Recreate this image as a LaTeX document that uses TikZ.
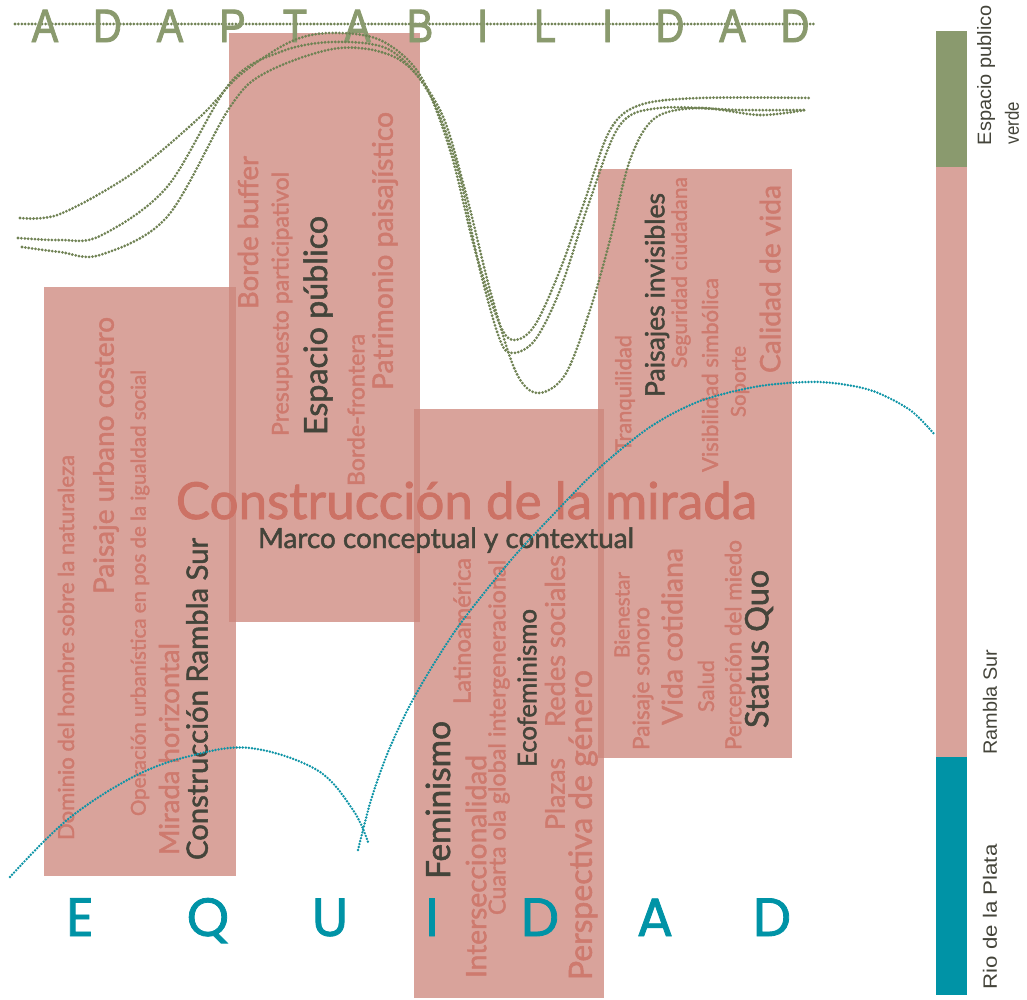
\documentclass[tikz,border=0pt]{standalone}
\usepackage{fontspec}
\setmainfont{Lato}
\newfontfamily\wfont{Lato}[FakeBold=1.6]
\newfontfamily\letfont{Liberation Sans}[FakeBold=2]
\newfontfamily\eqfont{Poppins}[FakeBold=1.5]
\newfontfamily\barfont{Liberation Sans}
\usepackage{graphicx}
\newlength\pxu \setlength\pxu{0.3mm}
\newcommand\fw[2]{\resizebox{#1\pxu}{!}{#2}}
\newcommand\fwh[3]{\resizebox{#1\pxu}{#2\pxu}{#3}}
\definecolor{rfill}{RGB}{204,132,122}
\definecolor{pinkbar}{RGB}{217,163,155}
\definecolor{wpink}{RGB}{206,122,110}
\definecolor{tpink}{RGB}{204,114,101}
\definecolor{dtext}{RGB}{68,68,58}
\definecolor{gbar}{RGB}{138,154,110}
\definecolor{gline}{RGB}{112,130,84}
\definecolor{bbar}{RGB}{0,147,166}
\definecolor{bline}{RGB}{14,148,166}
\tikzset{
  rbox/.style={fill=rfill,fill opacity=0.75},
  wp/.style={text=wpink,inner sep=0pt,rotate=90,font=\wfont},
  wd/.style={text=dtext,inner sep=0pt,rotate=90,font=\wfont},
  gcurve/.style={draw=gline,line width=2.6pt,line cap=round,dash pattern=on 0pt off 2.9pt},
  bcurve/.style={draw=bline,line width=2.3pt,line cap=round,dash pattern=on 0pt off 2.6pt},
  adl/.style={text=gbar,inner sep=0pt,anchor=base,font=\letfont\fontsize{40}{40}\selectfont},
  eql/.style={text=bbar,inner sep=0pt,anchor=base,font=\eqfont\fontsize{46}{46}\selectfont},
  barlab/.style={text=dtext,inner sep=0pt,rotate=90,font=\barfont}
}
\begin{document}
\begin{tikzpicture}[x=0.03cm,y=-0.03cm]
\useasboundingbox (0,0) rectangle (1027,1000);
% blocks
\path[rbox] (44,287) rectangle (236,876);
\path[rbox] (229,33) rectangle (420,622);
\path[rbox] (414,409) rectangle (604,998);
\path[rbox] (598,169) rectangle (792,758);
% right bar
\fill[gbar] (936,31) rectangle (967,167);
\fill[pinkbar] (936,167) rectangle (967,757);
\fill[bbar] (936,757) rectangle (967,995);
\node[barlab] (l1) at (986,75) {\fwh{140}{14}{Espacio publico}};
\node[barlab] (l2) at (1012,123) {\fwh{42}{14}{verde}};
\node[barlab] (l3) at (990,702) {\fwh{105}{14}{Rambla Sur}};
\node[barlab] (l4) at (990,917) {\fwh{145}{14}{Rio de la Plata}};
% word cloud
\node[wp] (t1) at (66,647.5) {\fw{385}{Dominio del hombre sobre la naturaleza}};
\node[wp] (t2) at (106,455.5) {\fw{277}{Paisaje urbano costero}};
\node[wp] (t3) at (140,593) {\fw{446}{Operación urbanística en pos de la igualdad social}};
\node[wp] (t4) at (169,749) {\fw{212}{Mirada horizontal}};
\node[wd] (t5) at (197,699) {\fw{322}{Construcción Rambla Sur}};
\node[wp] (t6) at (248,232.5) {\fw{153}{Borde buffer}};
\node[wp] (t7) at (282,304) {\fw{264}{Presupuesto participativol}};
\node[wd] (t8) at (318,325.5) {\fw{219}{Espacio público}};
\node[wp] (t9) at (356,410) {\fw{152}{Borde-frontera}};
\node[wp] (t10) at (385,251) {\fw{278}{Patrimonio paisajístico}};
\node[wd] (t11) at (438,800) {\fw{158}{Feminismo}};
\node[wp] (t12) at (476,866.5) {\fw{223}{Interseccionalidad}};
\node[wp] (t13) at (499,737.5) {\fw{355}{Cuarta ola global intergeneracional}};
\node[wp] (t14) at (462,631) {\fw{146}{Latinoamérica}};
\node[wd] (t15) at (527,688) {\fw{158}{Ecofeminismo}};
\node[wp] (t16) at (555,794) {\fw{72}{Plazas}};
\node[wp] (t17) at (555,641) {\fw{172}{Redes sociales}};
\node[wp] (t18) at (583,825) {\fw{310}{Perspectiva de género}};
\node[wp] (t19) at (625,393.5) {\fw{117}{Tranquilidad}};
\node[wd] (t20) at (657,295) {\fw{204}{Paisajes invisibles}};
\node[wp] (t21) at (681,272.5) {\fw{191}{Seguridad ciudadana}};
\node[wp] (t22) at (710,375) {\fw{194}{Visibilidad simbólica}};
\node[wp] (t23) at (740,381.5) {\fw{71}{Soporte}};
\node[wp] (t24) at (770,279) {\fw{188}{Calidad de vida}};
\node[wp] (t25) at (622,615) {\fw{86}{Bienestar}};
\node[wp] (t26) at (643,678.5) {\fw{143}{Paisaje sonoro}};
\node[wp] (t27) at (672,636.5) {\fw{177}{Vida cotidiana}};
\node[wp] (t28) at (706,686) {\fw{52}{Salud}};
\node[wp] (t29) at (735,645) {\fw{210}{Percepción del miedo}};
\node[wd] (t30) at (759,649) {\fw{158}{Status Quo}};
\node[text=tpink,inner sep=0pt,anchor=base,font=\wfont] (title) at (466.5,519) {\fw{581}{Construcción de la mirada}};
\node[text=dtext,inner sep=0pt,anchor=base,font=\wfont] (sub) at (446,548) {\fw{376}{Marco conceptual y contextual}};
% ADAPTABILIDAD
\draw[gcurve] (15,24) -- (815,24);
\foreach \L [count=\i from 0] in {A,D,A,P,T,A,B,I,L,I,D,A,D}
  \node[adl] (ad\i) at (45+62.5*\i,42) {\scalebox{0.85}[1]{\L}};
% EQUIDAD
\foreach \L/\X [count=\i] in {E/80,Q/208,U/330,I/432,D/540,A/655,D/772}
  \node[eql] (eq\i) at (\X,936) {\L};
% green curves
\draw[gcurve] plot[smooth,tension=0.55] coordinates {(20,218) (60,214) (133,173) (200,117) (240,75) (290,42) (330,33) (380,40) (420,75) (450,150) (475,250) (500,325) (515,340) (535,325) (560,270) (585,200) (610,130) (640,105) (700,98) (812,98)};
\draw[gcurve] plot[smooth,tension=0.55] coordinates {(18,238) (60,240) (100,236) (167,187) (230,83) (280,52) (333,42) (390,50) (430,95) (458,170) (480,270) (500,340) (513,353) (535,340) (560,290) (590,200) (620,125) (660,108) (740,110) (805,110)};
\draw[gcurve] plot[smooth,tension=0.55] coordinates {(22,247) (60,252) (100,255) (167,217) (230,107) (267,72) (340,48) (400,60) (440,110) (465,190) (490,290) (515,370) (537,393) (565,375) (590,310) (610,240) (630,160) (655,118) (700,108) (760,115) (805,110)};
% blue curves
\draw[bcurve] plot[smooth,tension=0.6] coordinates {(10,877) (67,820) (133,777) (190,756) (250,748) (317,770) (353,810) (368,842)};
\draw[bcurve] plot[smooth,tension=0.5] coordinates {(358,850) (371,800) (388,752) (410,705) (435,662) (463,620) (511,560) (549,519) (597,470) (650,427) (700,401) (760,386) (820,382) (870,390) (910,410) (935,435)};
\end{tikzpicture}
\end{document}
